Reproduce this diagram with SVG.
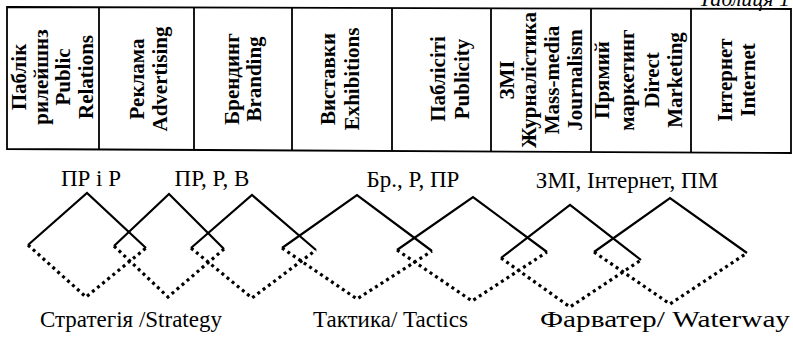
<svg xmlns="http://www.w3.org/2000/svg" width="793" height="337" viewBox="0 0 793 337">
<style>
.bg{fill:#fff}
.tbl{fill:none;stroke:#000;stroke-width:1.8}
.col{font-family:"Liberation Serif","Times New Roman",serif;font-weight:bold;font-size:21px;fill:#000;text-anchor:middle}
.lbl{font-family:"Liberation Serif","Times New Roman",serif;font-size:23px;fill:#000}
.ttl{font-family:"Liberation Serif","Times New Roman",serif;font-style:italic;font-size:22px;fill:#000;text-anchor:end}
.solid{fill:none;stroke:#000;stroke-width:2.2;stroke-linejoin:miter}
.dot{fill:none;stroke:#000;stroke-width:3.2;stroke-dasharray:3 3.6}
</style>
<rect class="bg" x="0" y="0" width="793" height="337"/>
<text class="ttl" x="790" y="6">Таблиця 1</text>
<g id="table">
<path class="tbl" d="M7,7 L791,9 L791,153 L7,149 Z"/>
<path class="tbl" d="M99,7 V150 M194,7 V150 M292,8 V151 M392,8 V151 M491,8 V152 M591,8 V152 M691,9 V153"/>
</g>
<g id="col-pr"><text class="col" transform="rotate(-90)"><tspan x="-77" y="26">Паблік</tspan><tspan x="-77" y="48">рилейшнз</tspan><tspan x="-77" y="70">Public</tspan><tspan x="-77" y="93">Relations</tspan></text></g>
<g id="col-adv"><text class="col" transform="rotate(-90)"><tspan x="-79" y="144">Реклама</tspan><tspan x="-79" y="167">Advertising</tspan></text></g>
<g id="col-brand"><text class="col" transform="rotate(-90)"><tspan x="-79" y="239">Брендинг</tspan><tspan x="-79" y="261">Branding</tspan></text></g>
<g id="col-exh"><text class="col" transform="rotate(-90)"><tspan x="-79" y="335">Виставки</tspan><tspan x="-79" y="359">Exhibitions</tspan></text></g>
<g id="col-pub"><text class="col" transform="rotate(-90)"><tspan x="-79" y="445">Паблісіті</tspan><tspan x="-79" y="469">Publicity</tspan></text></g>
<g id="col-media"><text class="col" transform="rotate(-90)"><tspan x="-80" y="514">ЗМІ</tspan><tspan x="-80" y="536">Журналістика</tspan><tspan x="-80" y="559">Mass-media</tspan><tspan x="-80" y="582">Journalism</tspan></text></g>
<g id="col-dm"><text class="col" transform="rotate(-90)"><tspan x="-80" y="609">Прямий</tspan><tspan x="-80" y="634">маркетинг</tspan><tspan x="-80" y="659">Direct</tspan><tspan x="-80" y="682">Marketing</tspan></text></g>
<g id="col-net"><text class="col" transform="rotate(-90)"><tspan x="-80" y="732">Інтернет</tspan><tspan x="-80" y="755">Internet</tspan></text></g>
<g id="labels-top">
<text class="lbl" x="91" y="186" text-anchor="middle">ПР і Р</text>
<text class="lbl" x="212" y="186" text-anchor="middle">ПР, Р, В</text>
<text class="lbl" x="413" y="187" text-anchor="middle">Бр., Р, ПР</text>
<text class="lbl" x="627" y="188" text-anchor="middle">ЗМІ, Інтернет, ПМ</text>
</g>
<g id="connectors">
<path class="solid" d="M28,245 L87,193 L146,248"/>
<path class="dot" d="M28,245 L86,297 L146,248"/>
<path class="solid" d="M114,246 L169,194 L224,249"/>
<path class="dot" d="M114,246 L168,297 L224,249"/>
<path class="solid" d="M191,248 L252,195 L316,250"/>
<path class="dot" d="M191,248 L252,298 L316,250"/>
<path class="solid" d="M282,248 L357,195 L432,251"/>
<path class="dot" d="M282,248 L357,299 L432,251"/>
<path class="solid" d="M397,250 L473,197 L547,252"/>
<path class="dot" d="M397,250 L472,301 L547,252"/>
<path class="solid" d="M501,258 L570,205 L641,260"/>
<path class="dot" d="M501,258 L570,307 L641,260"/>
<path class="solid" d="M594,252 L670,198 L747,253"/>
<path class="dot" d="M594,252 L670,304 L747,253"/>
</g>
<g id="labels-bottom">
<text class="lbl" x="40" y="327">Стратегія /Strategy</text>
<text class="lbl" x="313" y="327">Тактика/ Tactics</text>
<text class="lbl" x="540" y="327" textLength="250" lengthAdjust="spacingAndGlyphs">Фарватер/ Waterway</text>
</g>
</svg>
